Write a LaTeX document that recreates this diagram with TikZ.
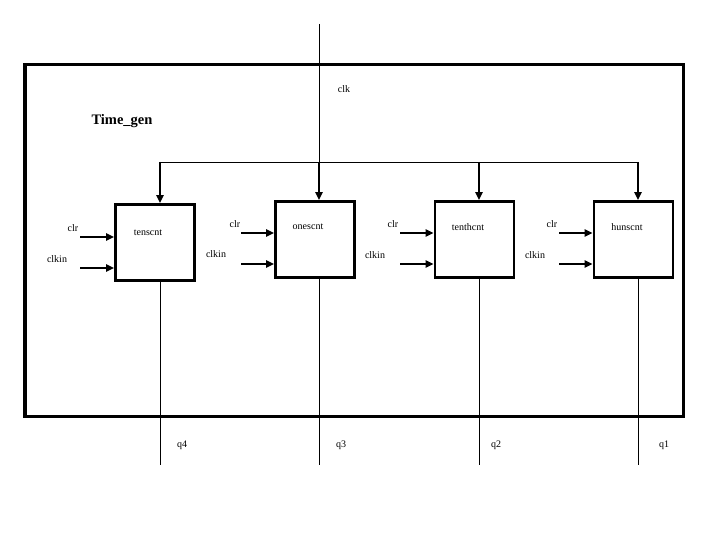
\documentclass[tikz,border=0pt]{standalone}
\usepackage{fontspec}
\setmainfont{Liberation Serif}
\usetikzlibrary{positioning,arrows.meta}
\tikzset{
  cnt/.style={draw,line width=2.6pt,minimum width=79pt,minimum height=76pt,inner sep=0pt},
  lbl/.style={inner sep=0pt,font=\fontsize{10}{11}\selectfont},
  wire/.style={line width=0.9pt},
  arr/.style={-{Triangle[length=8pt,width=7pt]},line width=2pt},
}
\begin{document}
\begin{tikzpicture}[x=1pt,y=-1pt]
\useasboundingbox (0,0) rectangle (720,540);
% enclosing block
\draw[line width=3.5pt] (25,64.5) rectangle (683.5,416.5);
\node[inner sep=0pt,font=\fontsize{14.5}{16}\selectfont\bfseries] (title) at (122,121) {Time\_gen};
\node[lbl] (clklbl) at (344,89) {clk};

% counters
\node[cnt] (tens) at (155,242.5) {};
\node[cnt] (ones) at (315,239.5) {};
\node[cnt] (tenth) at (474.5,239.5) {};
\node[cnt] (huns) at (633.5,239.5) {};
\node[lbl] (tenslbl) at (148,233) {tenscnt};
\node[lbl] (oneslbl) at (308,227) {onescnt};
\node[lbl] (tenthlbl) at (468,227) {tenthcnt};
\node[lbl] (hunslbl) at (627,227) {hunscnt};

% clock bus
\coordinate (clktop) at (319,24);
\coordinate (b4) at (160,162);
\coordinate (b3) at (319,162);
\coordinate (b2) at (479,162);
\coordinate (b1) at (638,162);
\draw[wire] (clktop) -- (b3);
\draw[wire] (b4) -- (b1);
\draw[arr] (b4) -- (b4 |- tens.north);
\draw[arr] (b3) -- (b3 |- ones.north);
\draw[arr] (b2) -- (b2 |- tenth.north);
\draw[arr] (b1) -- (b1 |- huns.north);

% inputs
\coordinate (clr4) at (80,237);
\coordinate (in4) at (80,268);
\coordinate (clr3) at (241,233);
\coordinate (in3) at (241,264);
\coordinate (clr2) at (400,233);
\coordinate (in2) at (400,264);
\coordinate (clr1) at (559,233);
\coordinate (in1) at (559,264);
\draw[arr] (clr4) -- (clr4 -| tens.west);
\draw[arr] (in4) -- (in4 -| tens.west);
\draw[arr] (clr3) -- (clr3 -| ones.west);
\draw[arr] (in3) -- (in3 -| ones.west);
\draw[arr] (clr2) -- (clr2 -| tenth.west);
\draw[arr] (in2) -- (in2 -| tenth.west);
\draw[arr] (clr1) -- (clr1 -| huns.west);
\draw[arr] (in1) -- (in1 -| huns.west);
\node[lbl] (clrlbl4) at (73,228) {clr};
\node[lbl] (inlbl4) at (57,259) {clkin};
\node[lbl] (clrlbl3) at (235,224) {clr};
\node[lbl] (inlbl3) at (216,254) {clkin};
\node[lbl] (clrlbl2) at (393,224) {clr};
\node[lbl] (inlbl2) at (375,255) {clkin};
\node[lbl] (clrlbl1) at (552,224) {clr};
\node[lbl] (inlbl1) at (535,255) {clkin};

% outputs
\coordinate (q4end) at (160,465);
\coordinate (q3end) at (319,465);
\coordinate (q2end) at (479,465);
\coordinate (q1end) at (638,465);
\draw[wire] (q4end |- tens.south) -- (q4end);
\draw[wire] (q3end |- ones.south) -- (q3end);
\draw[wire] (q2end |- tenth.south) -- (q2end);
\draw[wire] (q1end |- huns.south) -- (q1end);
\node[lbl] (q4) at (182,445) {q4};
\node[lbl] (q3) at (341,445) {q3};
\node[lbl] (q2) at (496,445) {q2};
\node[lbl] (q1) at (664,445) {q1};
\end{tikzpicture}
\end{document}
